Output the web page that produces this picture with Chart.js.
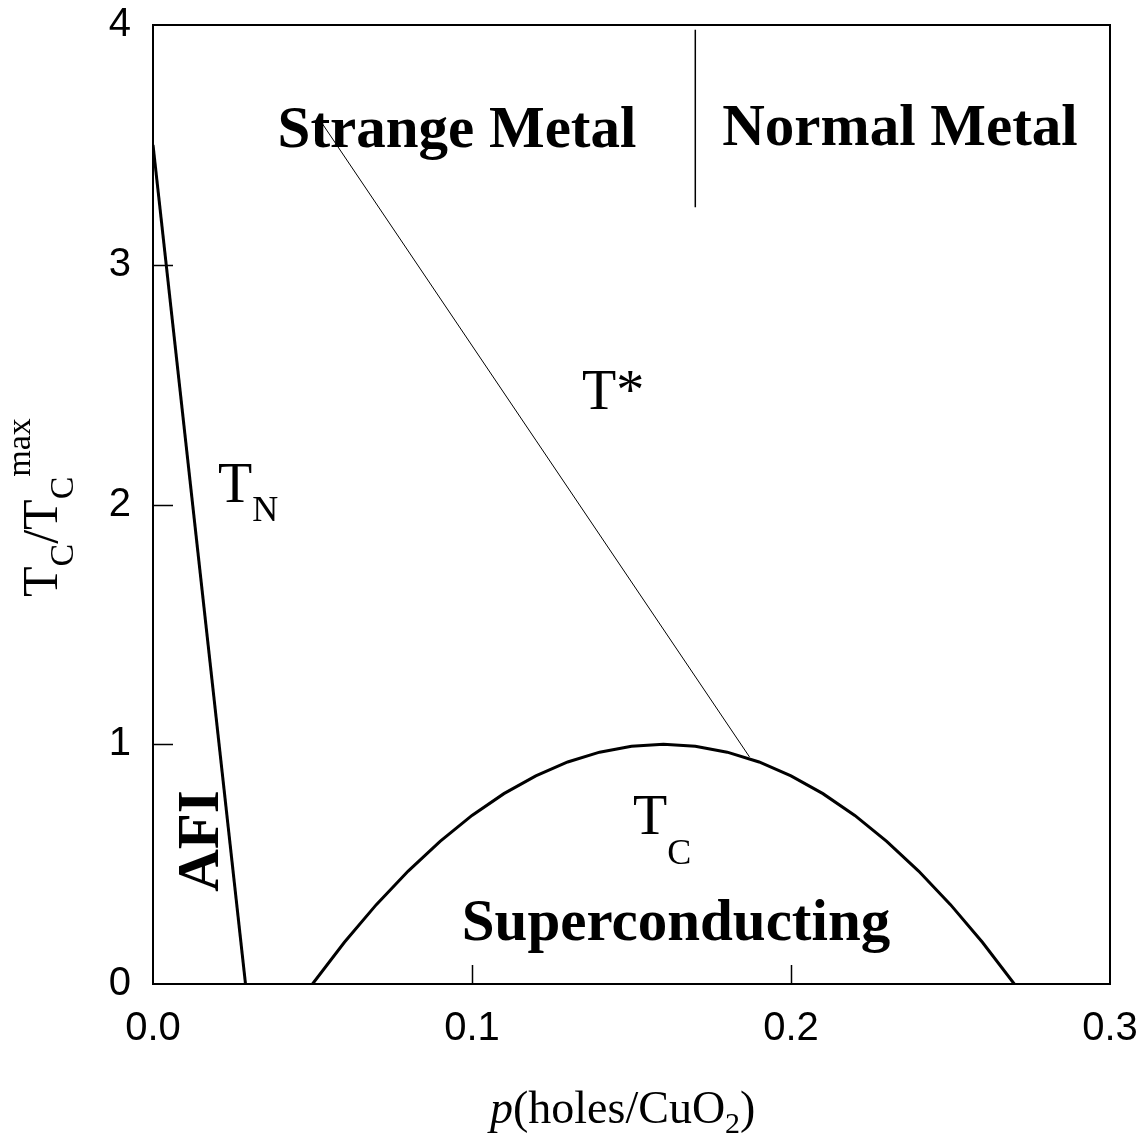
<!DOCTYPE html>
<html>
<head>
<meta charset="utf-8">
<script src="https://cdn.jsdelivr.net/npm/chart.js@4.4.1/dist/chart.umd.min.js"></script>
<style>
  html, body { margin: 0; padding: 0; background: #fff; }
  #wrap { width: 1146px; height: 1139px; }
</style>
</head>
<body>
<div id="wrap"><canvas id="phase"></canvas></div>
<script>

// Neel line (AFI boundary)
const tnP = [0.0, 0.029];
const tnT = [3.5, 0.0];

// superconducting dome
const domeP = [0.05, 0.06, 0.07, 0.08, 0.09, 0.10, 0.11, 0.12, 0.13, 0.14, 0.15, 0.16,
               0.17, 0.18, 0.19, 0.20, 0.21, 0.22, 0.23, 0.24, 0.25, 0.26, 0.27];
const domeT = [0.0, 0.174, 0.331, 0.471, 0.595, 0.703, 0.794, 0.868, 0.926, 0.967, 0.992, 1.0,
               0.992, 0.967, 0.926, 0.868, 0.794, 0.703, 0.595, 0.471, 0.331, 0.174, 0.0];

// pseudogap line T*
const tStarP = [0.053, 0.187];
const tStarT = [3.59, 0.947];

// strange / normal metal boundary
const metalP = [0.170, 0.170];
const metalT = [3.98, 3.24];

const xTicks = [0.0, 0.1, 0.2, 0.3];
const yTicks = [0, 1, 2, 3, 4];

const SERIF = "'Liberation Serif', 'Times New Roman', serif";
const SANS = "'Liberation Sans', Arial, sans-serif";

function pts(xs, ys){
  return xs.map((x, i) => ({x: x, y: ys[i]}));
}

function line(xs, ys, width){
  return {
    data: pts(xs, ys),
    showLine: true,
    borderColor: "#000",
    borderWidth: width,
    pointRadius: 0,
    tension: 0,
    fill: false
  };
}

// text runs: [text, font, dy]
function drawRuns(ctx, runs, x, y, angle){
  ctx.save();
  ctx.translate(x, y);
  ctx.rotate(angle || 0);
  ctx.fillStyle = "#000";
  ctx.textBaseline = "alphabetic";
  ctx.textAlign = "left";
  let cx = 0;
  for (const r of runs){
    ctx.font = r[1];
    ctx.fillText(r[0], cx, r[2] || 0);
    cx += ctx.measureText(r[0]).width;
  }
  ctx.restore();
}

function runsWidth(ctx, runs){
  let w = 0;
  for (const r of runs){
    ctx.font = r[1];
    w += ctx.measureText(r[0]).width;
  }
  return w;
}

function noPad(scale){
  scale.paddingTop = 0;
  scale.paddingBottom = 0;
  scale.paddingLeft = 0;
  scale.paddingRight = 0;
}

const labelPlugin = {
  id: "phaseLabels",
  afterDraw(chart){
    const ctx = chart.ctx;
    const a = chart.chartArea;
    const xs = chart.scales.x;
    const ys = chart.scales.y;

    // frame
    ctx.save();
    ctx.strokeStyle = "#000";
    ctx.lineWidth = 2;
    ctx.strokeRect(a.left, a.top, a.right - a.left, a.bottom - a.top);

    // inward ticks
    ctx.beginPath();
    for (const v of xTicks.slice(1, -1)){
      const px = Math.round(xs.getPixelForValue(v)) + 0.5;
      ctx.moveTo(px, a.bottom);
      ctx.lineTo(px, a.bottom - 19);
    }
    for (const v of yTicks.slice(1, -1)){
      const py = Math.round(ys.getPixelForValue(v)) + 0.5;
      ctx.moveTo(a.left, py);
      ctx.lineTo(a.left + 20, py);
    }
    ctx.lineWidth = 1.5;
    ctx.stroke();
    ctx.restore();

    const bold = "bold 59px " + SERIF;
    const big = "56px " + SERIF;
    const sub = "36px " + SERIF;

    // region names
    ctx.save();
    ctx.textAlign = "center";
    ctx.textBaseline = "alphabetic";
    ctx.fillStyle = "#000";
    ctx.font = bold;
    ctx.fillText("Strange Metal", 457, 147);
    ctx.fillText("Normal Metal", 900, 145);
    ctx.fillText("Superconducting", 676, 940);
    ctx.restore();

    drawRuns(ctx, [["AFI", bold]], 218, 841 + runsWidth(ctx, [["AFI", bold]]) / 2, -Math.PI / 2);

    drawRuns(ctx, [["T*", big]], 582, 409);
    drawRuns(ctx, [["T", big], ["N", sub, 19]], 218, 502);
    drawRuns(ctx, [["T", big], ["C", sub, 30]], 633, 834);

    // axis titles
    const xt = [["p", "italic 46px " + SERIF], ["(holes/CuO", "46px " + SERIF],
                ["2", "30px " + SERIF, 10], [")", "46px " + SERIF]];
    drawRuns(ctx, xt, 490, 1123);

    const yt = [["T", "50px " + SERIF], ["C", "34px " + SERIF, 16], ["/", "50px " + SERIF],
                ["T", "50px " + SERIF], ["C", "34px " + SERIF, 16], ["max", "34px " + SERIF, -27]];
    drawRuns(ctx, yt, 57, 597, -Math.PI / 2);
  }
};

new Chart("phase", {
  type: "scatter",
  data: {
    datasets: [
      line(tnP, tnT, 3),
      line(domeP, domeT, 3),
      line(tStarP, tStarT, 1),
      line(metalP, metalT, 1.5)
    ]
  },
  options: {
    responsive: true,
    maintainAspectRatio: false,
    animation: false,
    layout: {padding: {left: 0, top: 25, right: 36, bottom: 0}},
    plugins: {legend: {display: false}, tooltip: {enabled: false}},
    scales: {
      x: {
        type: "linear",
        min: 0,
        max: 0.3,
        grid: {display: false, drawTicks: false, tickLength: 0},
        border: {display: false},
        afterBuildTicks: (scale) => { scale.ticks = xTicks.map(v => ({value: v})); },
        afterFit: (scale) => { scale.height = 155; noPad(scale); },
        ticks: {
          padding: 21,
          color: "#000",
          font: {family: SANS, size: 40},
          maxRotation: 0,
          callback: (v) => Number(v).toFixed(1)
        }
      },
      y: {
        type: "linear",
        min: 0,
        max: 4,
        grid: {display: false, drawTicks: false, tickLength: 0},
        border: {display: false},
        afterBuildTicks: (scale) => { scale.ticks = yTicks.map(v => ({value: v})); },
        afterFit: (scale) => { scale.width = 153; noPad(scale); },
        ticks: {
          padding: 22,
          color: "#000",
          font: {family: SANS, size: 40},
          callback: (v) => String(v)
        }
      }
    }
  },
  plugins: [labelPlugin]
});

</script>
</body>
</html>
